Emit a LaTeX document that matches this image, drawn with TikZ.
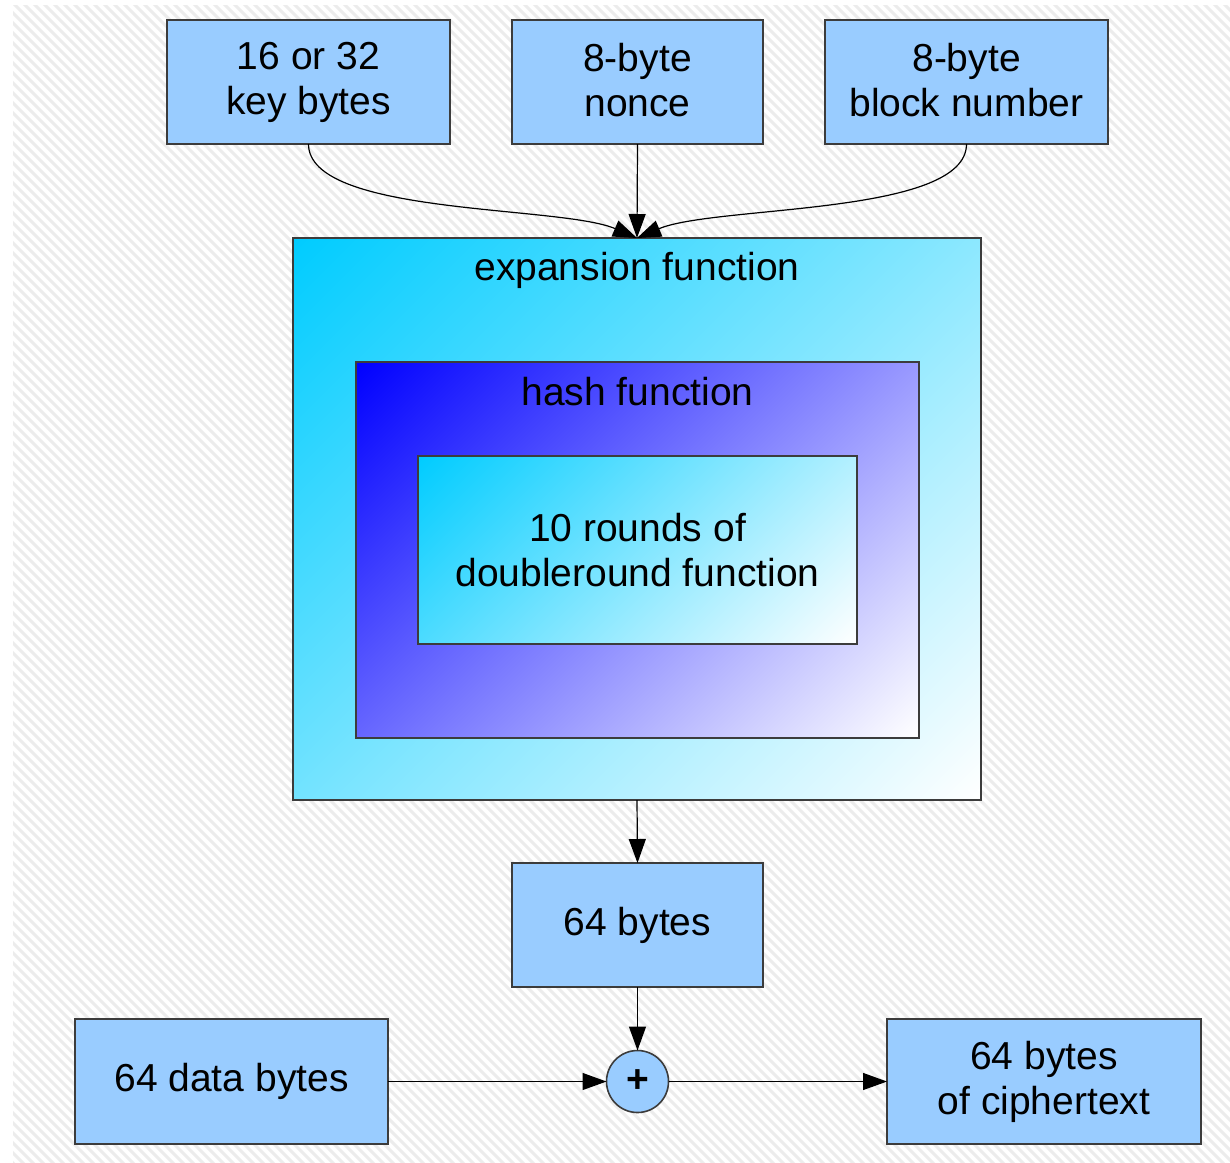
\documentclass[tikz,border=0pt]{standalone}
\usepackage{fontspec}
\setmainfont{Liberation Sans}
\usetikzlibrary{arrows.meta}

\definecolor{boxblue}{RGB}{153,204,255}
\definecolor{edgegray}{RGB}{60,60,60}
\definecolor{hatchgray}{RGB}{236,236,236}
\definecolor{skycyan}{RGB}{0,204,255}
\definecolor{deepblue}{RGB}{0,0,255}

% diagonal fades: full colour in the top-left corner, white in the bottom-right one
\pgfdeclarehorizontalshading{cyanfade}{100bp}{color(0bp)=(skycyan); color(14.6bp)=(skycyan); color(85.4bp)=(white); color(100bp)=(white)}
\pgfdeclarehorizontalshading{bluefade}{100bp}{color(0bp)=(deepblue); color(14.6bp)=(deepblue); color(85.4bp)=(white); color(100bp)=(white)}

% fixed line height so two-line labels sit on the same baselines
\newcommand\linestrut{\rule[-4.5pt]{0pt}{31.5pt}}

\tikzset{
  txt/.style={font=\fontsize{39}{45}\selectfont, align=center, text=black},
  bluebox/.style={txt, draw=edgegray, line width=1.6pt, fill=boxblue, inner sep=0pt, outer sep=0pt},
  fadebox/.style={draw=edgegray, line width=1.6pt, shading=#1, shading angle=-45, inner sep=0pt, outer sep=0pt},
  arr/.style={line width=1.2pt, draw=black, -{Triangle[length=24pt,width=17pt]}},
  hatch/.style={line width=3pt, draw=hatchgray},
}

\begin{document}
\begin{tikzpicture}[x=1pt, y=-1pt]
  \useasboundingbox (0,0) rectangle (1230,1162);
  \fill[white] (0,0) rectangle (1230,1162);

  % hatched backdrop
  \begin{scope}
    \clip (13,5) rectangle (1230,1162);
    \foreach \x in {-1200,-1190,...,1240}
      \draw[hatch] (\x,0) -- ++(1200,1200);
  \end{scope}

  % inputs
  \node[bluebox, minimum width=283, minimum height=124] (key)   at (308.5,82) {\linestrut 16 or 32\\\linestrut key bytes};
  \node[bluebox, minimum width=251, minimum height=124] (nonce) at (637.5,82) {\linestrut 8-byte\\\linestrut nonce};
  \node[bluebox, minimum width=283, minimum height=124] (block) at (966.5,82) {\linestrut 8-byte\\\linestrut block number};

  % nested functions
  \node[fadebox=cyanfade, minimum width=688, minimum height=562] (exp)   at (637,519) {};
  \node[txt] (exptitle) at (637,270) {expansion function};
  \node[fadebox=bluefade, minimum width=563, minimum height=376] (hash)  at (637.5,550) {};
  \node[txt] (hashtitle) at (637.5,392) {hash function};
  \node[fadebox=cyanfade, minimum width=439, minimum height=188] (rounds) at (637.5,550) {};
  \node[txt] (roundstext) at (637.5,550) {10 rounds of\\doubleround function};

  % output side
  \node[bluebox, minimum width=251, minimum height=124] (stream) at (637.5,925) {64 bytes};
  \node[bluebox, minimum width=313, minimum height=125] (data)   at (231.5,1081.5) {64 data bytes};
  \node[bluebox, circle, minimum size=62, font=\fontsize{39}{45}\bfseries] (xor) at (637.5,1081.5) {+};
  \node[bluebox, minimum width=314, minimum height=125] (cipher) at (1044,1081.5) {\linestrut 64 bytes\\\linestrut of ciphertext};

  % connectors
  \draw[arr] (key.south)   .. controls +(0,72) and (560,205) .. (exp.north);
  \draw[arr] (nonce.south) -- (exp.north);
  \draw[arr] (block.south) .. controls +(0,72) and (715,205) .. (exp.north);
  \draw[arr] (exp.south)    -- (stream.north);
  \draw[arr] (stream.south) -- (xor.north);
  \draw[arr] (data.east)    -- (xor.west);
  \draw[arr] (xor.east)     -- (cipher.west);
\end{tikzpicture}
\end{document}
